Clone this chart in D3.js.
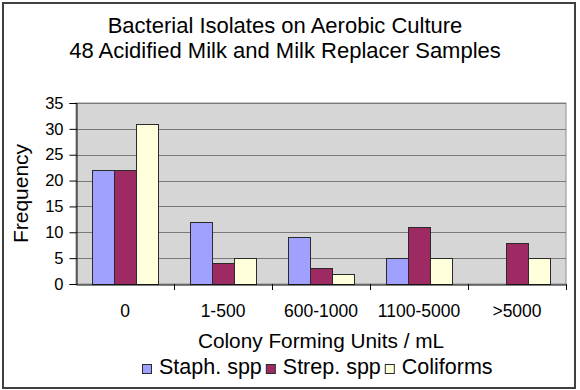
<!DOCTYPE html>
<html>
<head>
<meta charset="utf-8">
<script src="https://cdn.jsdelivr.net/npm/d3@7"></script>
<style>
  body { margin: 0; background: #fff; }
  svg text { font-family: "Liberation Sans", Arial, sans-serif; fill: #000; }
</style>
</head>
<body>
<svg id="chart"></svg>
<script>
// data
var categories = ["0", "1-500", "600-1000", "1100-5000", ">5000"]
var seriesNames = ["Staph. spp", "Strep. spp", "Coliforms"]
var staph = [22, 12, 9, 5, 0]
var strep = [22, 4, 3, 11, 8]
var coliforms = [31, 5, 2, 5, 5]
var yTicks = [0, 5, 10, 15, 20, 25, 30, 35]
var titleLines = ["Bacterial Isolates on Aerobic Culture", "48 Acidified Milk and Milk Replacer Samples"]

var colors = ["#a0a0ff", "#9e2a63", "#ffffdc"]

var screen = {width: 580, height: 390}
var plot = {left: 76, right: 566, top: 103, bottom: 284}

var svg = d3.select("#chart")
    .attr("width", screen.width)
    .attr("height", screen.height)

// outer frame
svg.append("rect")
    .attr("x", 3).attr("y", 3)
    .attr("width", 572).attr("height", 385)
    .attr("fill", "#fff")
    .attr("stroke", "#404040")
    .attr("stroke-width", 2)

var xScale = d3.scaleBand()
    .domain(categories)
    .range([plot.left, plot.right])

var inner = d3.scaleBand()
    .domain(seriesNames)
    .range([0, xScale.bandwidth()])
    .paddingOuter(0.72)

var yScale = d3.scaleLinear()
    .domain([0, 35])
    .range([plot.bottom, plot.top])

// plot area
svg.append("rect")
    .attr("x", plot.left).attr("y", plot.top)
    .attr("width", plot.right - plot.left)
    .attr("height", plot.bottom - plot.top)
    .attr("fill", "#d6d6d6")
    .attr("stroke", "#909090")

// gridlines
svg.append("g")
    .selectAll("line")
    .data(yTicks.slice(1))
    .enter()
    .append("line")
    .attr("x1", plot.left).attr("x2", plot.right)
    .attr("y1", function(d) { return Math.round(yScale(d)) + 0.5 })
    .attr("y2", function(d) { return Math.round(yScale(d)) + 0.5 })
    .attr("stroke", "#7a7a7a")

// bars
var rows = categories.map(function(c, i)
{
    return [
        {cat: c, name: seriesNames[0], value: staph[i], color: colors[0]},
        {cat: c, name: seriesNames[1], value: strep[i], color: colors[1]},
        {cat: c, name: seriesNames[2], value: coliforms[i], color: colors[2]}
    ]
})

svg.append("g")
    .selectAll("g")
    .data(rows)
    .enter()
    .append("g")
    .selectAll("rect")
    .data(function(d) { return d.filter(function(b) { return b.value > 0 }) })
    .enter()
    .append("rect")
    .attr("x", function(d) { return Math.round(xScale(d.cat) + inner(d.name)) + 0.5 })
    .attr("y", function(d) { return Math.round(yScale(d.value)) + 0.5 })
    .attr("width", Math.round(inner.bandwidth()))
    .attr("height", function(d) { return Math.round(yScale(0)) - Math.round(yScale(d.value)) })
    .attr("fill", function(d) { return d.color })
    .attr("stroke", "#2a2a2a")

// axes
var yAxis = d3.axisLeft(yScale)
    .tickValues(yTicks)
    .tickSize(7)
    .tickPadding(6)
var yAxisG = svg.append("g")
    .attr("transform", "translate(" + (plot.left + 0.5) + ",0)")
    .call(yAxis)
yAxisG.select(".domain").attr("stroke", "#000")
yAxisG.selectAll("text").style("font-size", "16.5px")

var xAxisG = svg.append("g")
    .attr("transform", "translate(0," + (plot.bottom + 0.5) + ")")
    .call(d3.axisBottom(xScale).tickSize(0).tickPadding(20))
xAxisG.select(".domain").attr("stroke", "#000")
xAxisG.selectAll("text").style("font-size", "17.5px")

// category boundary ticks
svg.append("g")
    .selectAll("line")
    .data(categories.slice(1).concat(["end"]))
    .enter()
    .append("line")
    .attr("x1", function(d, i) { return Math.round(xScale(categories[i]) + xScale.bandwidth()) + 0.5 })
    .attr("x2", function(d, i) { return Math.round(xScale(categories[i]) + xScale.bandwidth()) + 0.5 })
    .attr("y1", plot.bottom)
    .attr("y2", plot.bottom + 6)
    .attr("stroke", "#000")

// titles
var title = svg.append("text")
    .attr("text-anchor", "middle")
    .style("font-size", "22px")
title.selectAll("tspan")
    .data(titleLines)
    .enter()
    .append("tspan")
    .attr("x", 285)
    .attr("y", function(d, i) { return 33 + i * 25 })
    .text(function(d) { return d })

svg.append("text")
    .text("Colony Forming Units / mL")
    .attr("text-anchor", "middle")
    .attr("x", (plot.left + plot.right) / 2)
    .attr("y", 348)
    .style("font-size", "20.8px")

svg.append("g")
    .attr("transform", "translate(28," + ((plot.top + plot.bottom) / 2) + ")")
    .append("text")
    .text("Frequency")
    .attr("text-anchor", "middle")
    .attr("transform", "rotate(-90)")
    .style("font-size", "21px")

// legend
var legend = svg.append("g")
var lx = 0
seriesNames.forEach(function(name, i)
{
    var item = legend.append("g").attr("transform", "translate(" + lx + ",0)")
    item.append("rect")
        .attr("x", 0.5).attr("y", 364.5)
        .attr("width", 9).attr("height", 9)
        .attr("fill", colors[i])
        .attr("stroke", "#2a2a2a")
    var t = item.append("text")
        .text(name)
        .attr("x", 17)
        .attr("y", 374)
        .style("font-size", "21.5px")
    lx += 17 + t.node().getComputedTextLength() + 4
})
legend.attr("transform", "translate(" + Math.round(317 - (lx - 4) / 2) + ",0)")
</script>
</body>
</html>
